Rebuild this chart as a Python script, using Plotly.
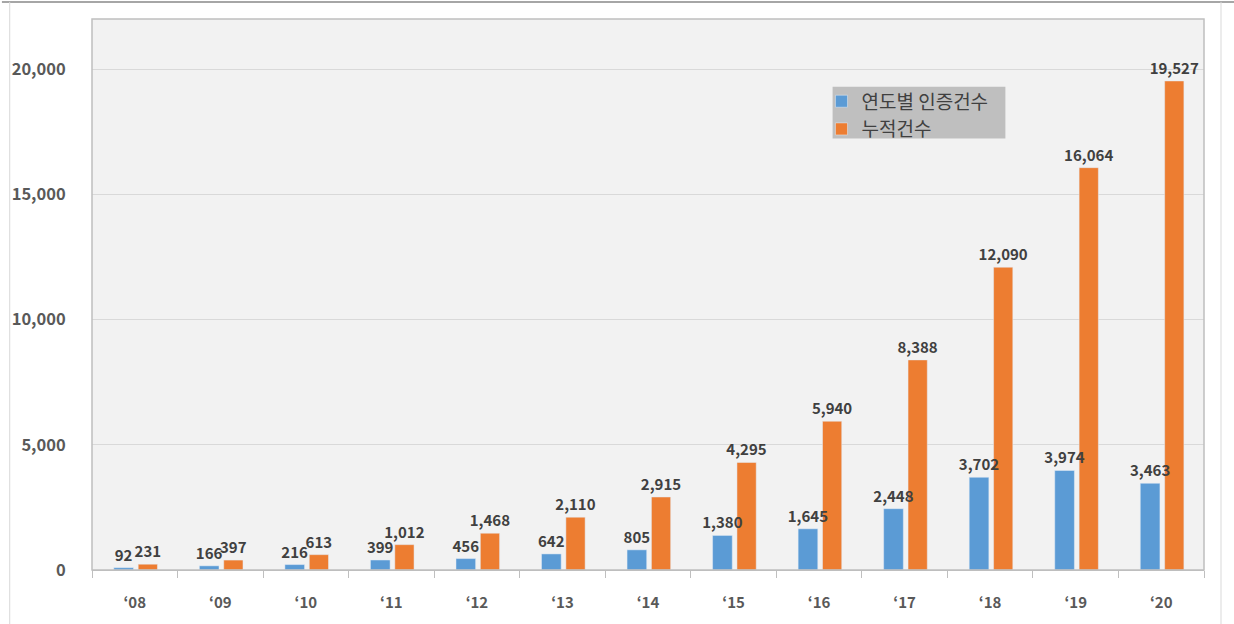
import plotly.graph_objects as go

years = ["‘08", "‘09", "‘10", "‘11", "‘12", "‘13", "‘14", "‘15", "‘16", "‘17", "‘18", "‘19", "‘20"]
annual = [92, 166, 216, 399, 456, 642, 805, 1380, 1645, 2448, 3702, 3974, 3463]
cumulative = [231, 397, 613, 1012, 1468, 2110, 2915, 4295, 5940, 8388, 12090, 16064, 19527]
y_ticks = [0, 5000, 10000, 15000, 20000]

label_font = dict(family="Noto Sans CJK KR", size=15, color="#404040", weight="bold")

fig = go.Figure()
# orange first so the blue labels are drawn above the orange bars
fig.add_trace(go.Bar(
    x=years, y=cumulative, name="누적건수",
    marker=dict(color="#ed7d31"),
    offset=0.04, width=0.225,
    text=[f"{v:,}" for v in cumulative], textposition="outside",
    textfont=label_font, cliponaxis=False, constraintext="none",
))
fig.add_trace(go.Bar(
    x=years, y=annual, name="연도별 인증건수",
    marker=dict(color="#5b9bd5"),
    offset=-0.245, width=0.23,
    text=[f"{v:,}" for v in annual], textposition="outside",
    textfont=label_font, cliponaxis=False, constraintext="none",
))

fig.update_layout(
    width=1234, height=624,
    margin=dict(l=90, r=30, t=19, b=52),
    paper_bgcolor="white",
    plot_bgcolor="#f2f2f2",
    barmode="overlay",
    font=dict(family="Noto Sans CJK KR", color="#595959"),
    legend=dict(
        x=0.656, y=0.885, xanchor="left", yanchor="top",
        bgcolor="rgba(0,0,0,0)", font=dict(size=19, color="#404040"),
        itemwidth=30, tracegroupgap=0, borderwidth=0, traceorder="reversed",
    ),
    xaxis=dict(
        type="category", showgrid=False, showline=True, linecolor="#bfbfbf",
        ticks="outside", tickson="boundaries", ticklen=7, tickcolor="#bfbfbf",
        tickfont=dict(size=15, color="#595959", weight="bold"),
        ticklabelstandoff=19,
    ),
    yaxis=dict(
        range=[0, 22000], tickvals=y_ticks, tickformat=",",
        showgrid=True, gridcolor="#d9d9d9", zeroline=False,
        tickfont=dict(size=16.5, color="#595959", weight="bold"),
        ticks="outside", ticklen=0, ticklabelstandoff=22,
    ),
    shapes=[
        dict(type="rect", xref="paper", yref="paper", x0=0.666, x1=0.8214, y0=0.783, y1=0.877,
             fillcolor="#bfbfbf", line=dict(width=0), layer="below"),
        dict(type="rect", xref="paper", yref="paper", x0=0, x1=1, y0=0, y1=1,
             line=dict(color="#bfbfbf", width=1.5)),
        dict(type="line", xref="paper", yref="paper", x0=-0.081, x1=1.03, y0=1.031, y1=1.031,
             line=dict(color="#a6a6a6", width=2)),
        dict(type="line", xref="paper", yref="paper", x0=-0.074, x1=-0.074, y0=-0.1, y1=1.031,
             line=dict(color="#d9d9d9", width=1)),
        dict(type="line", xref="paper", yref="paper", x0=1.0153, x1=1.0153, y0=-0.1, y1=1.031,
             line=dict(color="#d9d9d9", width=1)),
    ],
)

fig.write_html("out.html", config={"displayModeBar": False},
               post_script="document.body.style.margin='0';")
